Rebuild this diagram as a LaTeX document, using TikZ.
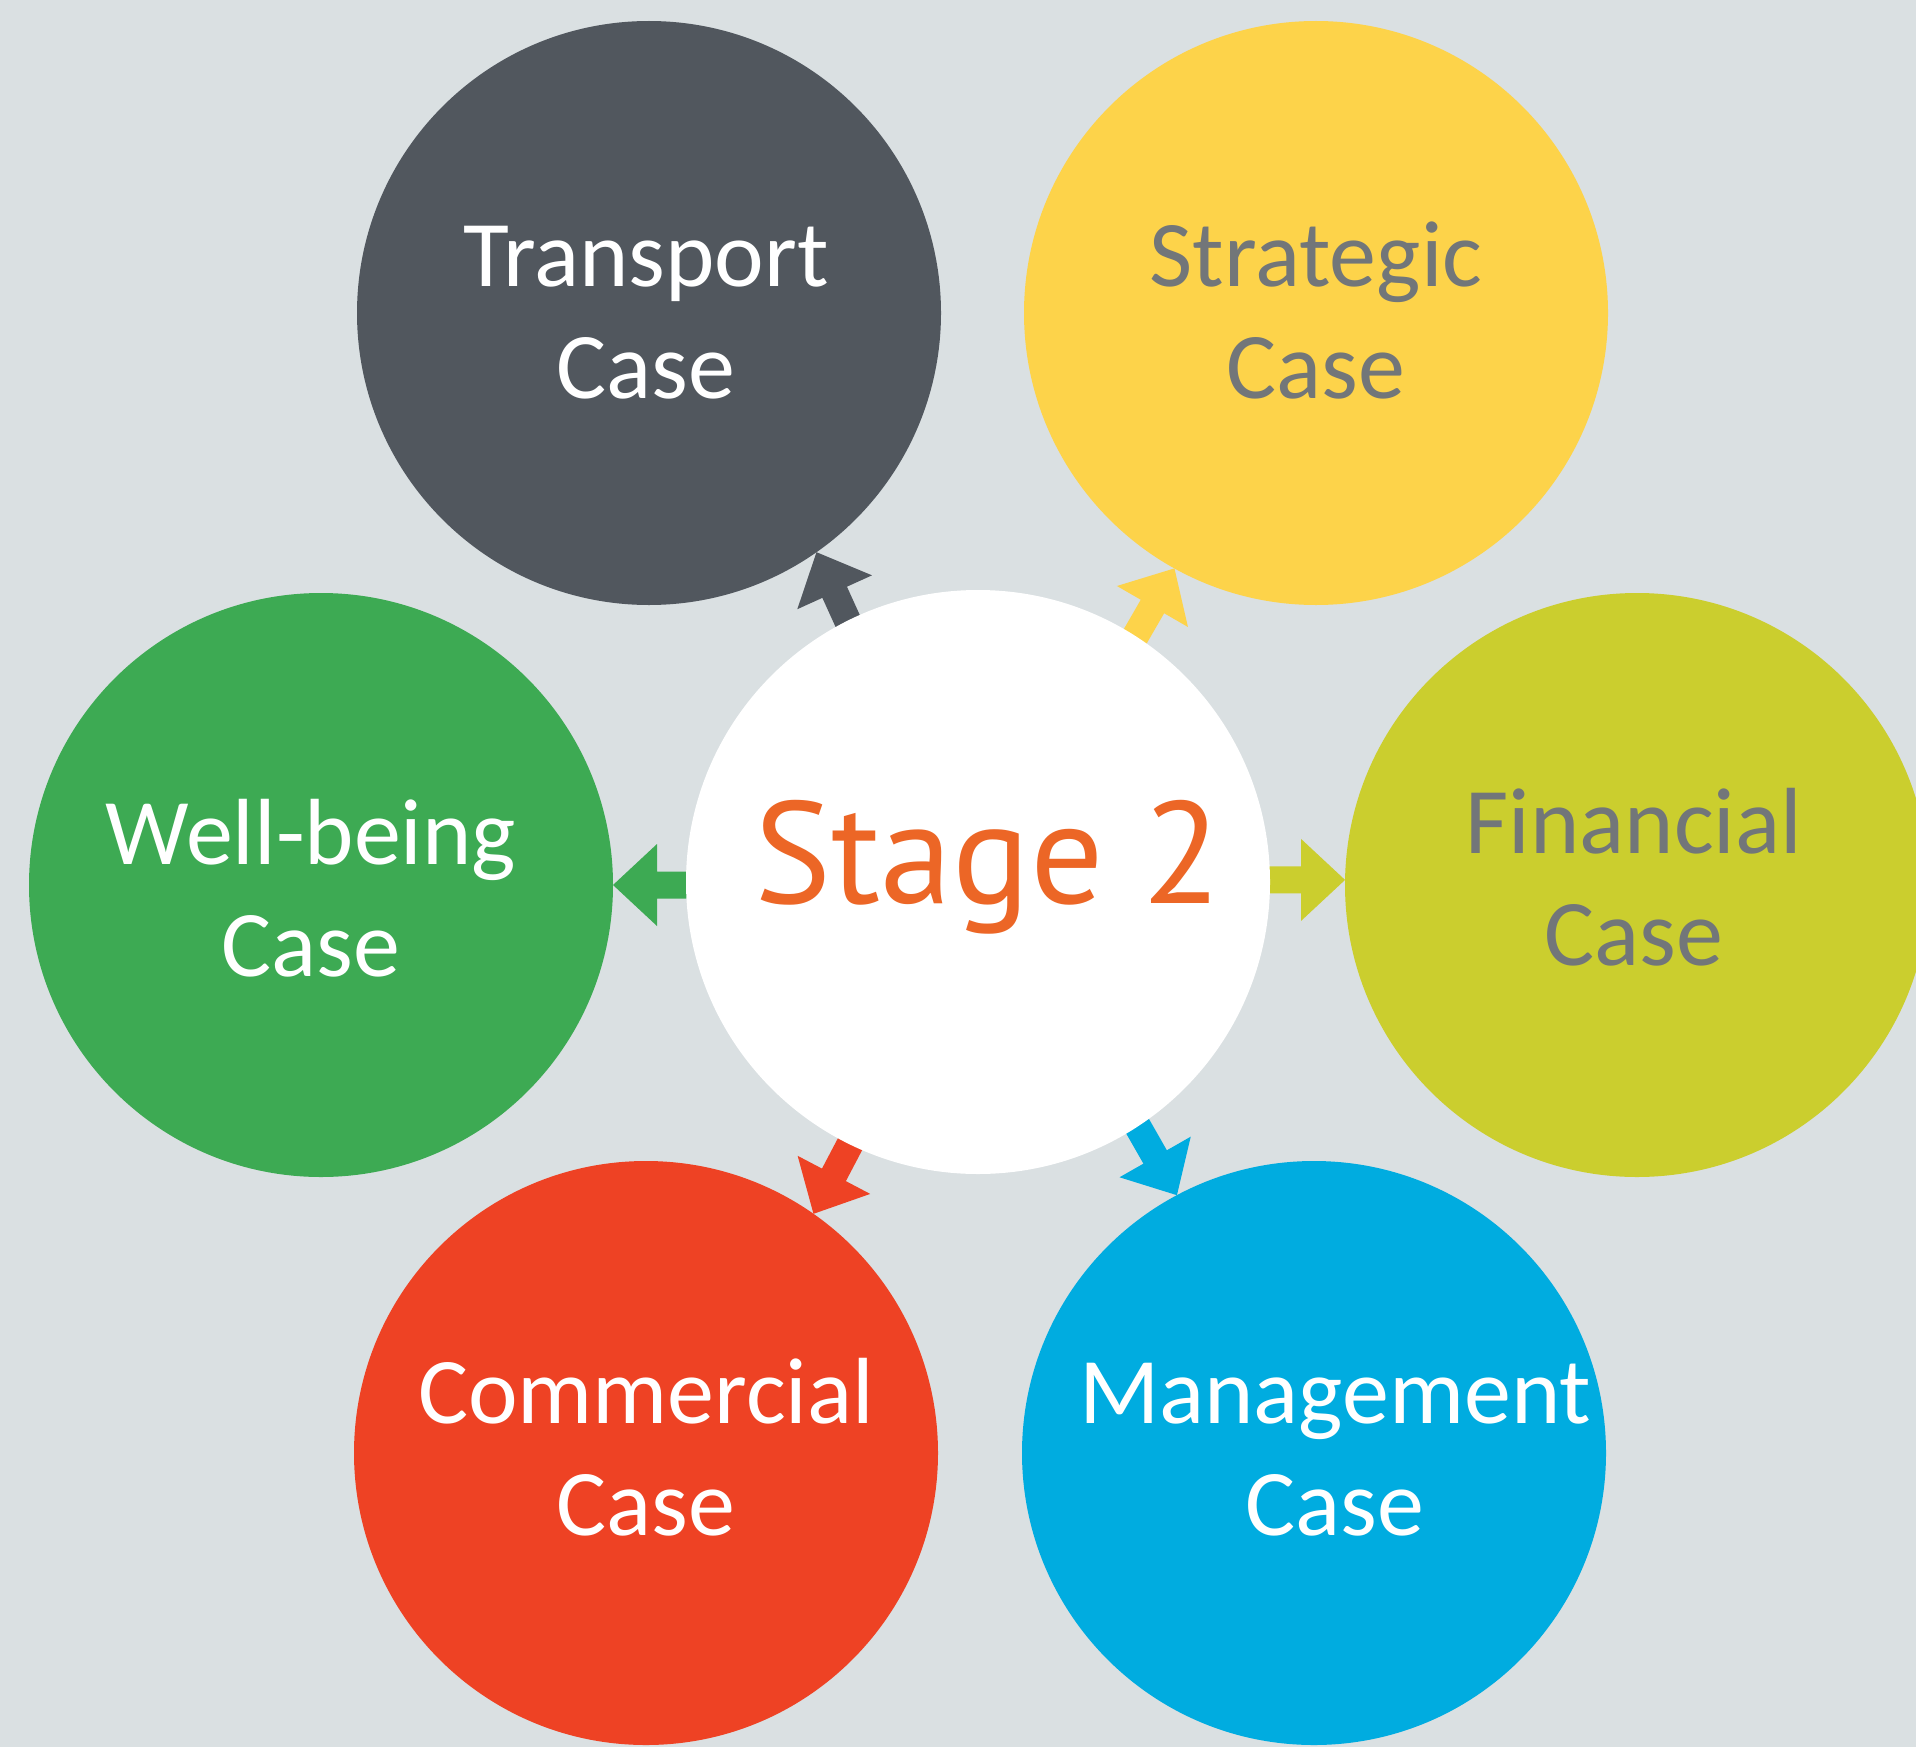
\documentclass[tikz,border=0pt]{standalone}
\usepackage{fontspec}
\setmainfont{Carlito}
\newfontfamily\stagefont{PT Sans}
\definecolor{bgc}{RGB}{218,224,226}
\definecolor{cTrans}{RGB}{81,87,94}
\definecolor{cStrat}{RGB}{253,211,74}
\definecolor{cFin}{RGB}{203,206,46}
\definecolor{cWell}{RGB}{61,170,83}
\definecolor{cComm}{RGB}{238,66,36}
\definecolor{cMgmt}{RGB}{0,172,224}
\definecolor{cGreyTxt}{RGB}{114,118,121}
\definecolor{cStage}{RGB}{236,102,38}
\newcommand{\blockarrow}[3]{%
  \fill[#3, shift={(#1)}, rotate=#2]
    (0,0) -- (-44,41) -- (-44,13.5) -- (-115,13.5) -- (-115,-13.5)
    -- (-44,-13.5) -- (-44,-41) -- cycle;}
\begin{document}
\begin{tikzpicture}[x=1pt,y=-1pt,
  bubble/.style={circle, minimum size=584pt, inner sep=0pt, outer sep=0pt, draw=none},
  casetext/.style={anchor=base, align=center, inner sep=0pt,
    font=\fontsize{94}{112}\selectfont},
  stagetext/.style={anchor=base, inner sep=0pt, text=cStage,
    font=\stagefont\fontsize{145}{150}\selectfont}]
\useasboundingbox (0,0) rectangle (1916,1747);
\clip (0,0) rectangle (1916,1747);
\fill[bgc] (0,0) rectangle (1916,1747);

% outer circles
\node[bubble, fill=cTrans] (trans) at (649,313) {};
\node[bubble, fill=cStrat] (strat) at (1316,313) {};
\node[bubble, fill=cWell]  (well)  at (321,885) {};
\node[bubble, fill=cFin]   (fin)   at (1637,885) {};
\node[bubble, fill=cComm]  (comm)  at (646,1453) {};
\node[bubble, fill=cMgmt]  (mgmt)  at (1314,1453) {};

% arrow tips on the outer circles
\coordinate (tipT) at (trans.-55.3);
\coordinate (tipS) at (strat.-119.4);
\coordinate (tipW) at (well.0.8);
\coordinate (tipF) at (fin.179.4);
\coordinate (tipC) at (comm.55.9);
\coordinate (tipM) at (mgmt.118.6);

% block arrows
\blockarrow{tipT}{114.4}{cTrans}
\blockarrow{tipS}{60}{cStrat}
\blockarrow{tipW}{180}{cWell}
\blockarrow{tipF}{0}{cFin}
\blockarrow{tipC}{242.3}{cComm}
\blockarrow{tipM}{-60.3}{cMgmt}

% centre circle
\node[bubble, fill=white] (stage) at (978,882) {};
\node[stagetext] (stageL) at (988,903) {Stage 2};

% case labels (anchor at the baseline of the last line)
\node[casetext, text=white]     (transL) at (646,398)  {Transport\\Case};
\node[casetext, text=cGreyTxt]  (stratL) at (1316,398) {Strategic\\Case};
\node[casetext, text=white]     (wellL)  at (311,976)  {Well-being\\Case};
\node[casetext, text=cGreyTxt]  (finL)   at (1634,965) {Financial\\Case};
\node[casetext, text=white]     (commL)  at (646,1535) {Commercial\\Case};
\node[casetext, text=white]     (mgmtL)  at (1335,1535) {Management\\Case};
\end{tikzpicture}
\end{document}
